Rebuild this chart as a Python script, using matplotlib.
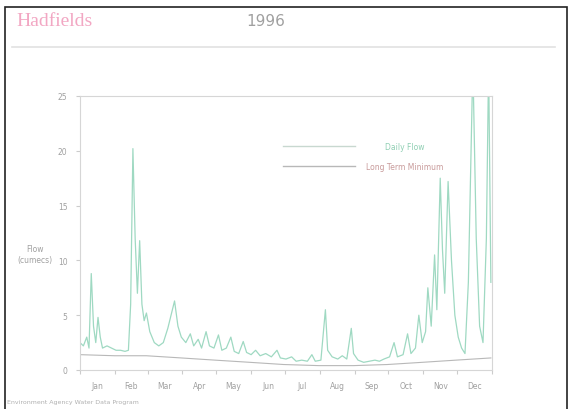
import matplotlib
matplotlib.use("Agg")
import matplotlib.pyplot as plt
from matplotlib.lines import Line2D
from matplotlib.patches import Rectangle

# Daily flow readings (day of year, flow in cumecs)
flow_days = [0, 3, 6, 8, 10, 12, 14, 16, 18, 20, 24, 28, 32, 36, 40, 43, 45, 47, 49, 51,
             53, 55, 57, 59, 62, 66, 70, 74, 78, 84, 87, 90, 94, 98, 101, 105, 108, 112,
             115, 119, 123, 126, 130, 134, 137, 141, 145, 148, 152, 156, 160, 165, 170,
             175, 178, 183, 188, 192, 197, 202, 206, 209, 214, 218, 220, 224, 229, 233,
             237, 241, 243, 247, 252, 257, 262, 266, 270, 275, 279, 282, 287, 291, 294,
             298, 301, 304, 307, 309, 312, 315, 317, 320, 322, 324, 327, 330, 333, 336,
             339, 342, 345, 349, 352, 355, 358, 361, 363, 365]
flow_values = [2.5, 2.2, 3.0, 2.0, 8.8, 4.0, 2.5, 4.8, 3.0, 2.0, 2.2, 2.0, 1.8, 1.8, 1.7,
               1.8, 6.0, 20.2, 12.0, 7.0, 11.8, 6.0, 4.5, 5.2, 3.5, 2.5, 2.2, 2.5, 3.8,
               6.3, 4.0, 3.0, 2.5, 3.3, 2.2, 2.8, 2.0, 3.5, 2.2, 2.0, 3.2, 1.8, 2.0, 3.0,
               1.7, 1.5, 2.6, 1.6, 1.4, 1.8, 1.3, 1.5, 1.2, 1.8, 1.1, 1.0, 1.2, 0.8, 0.9,
               0.8, 1.4, 0.8, 0.9, 5.5, 1.8, 1.2, 1.0, 1.3, 1.0, 3.8, 1.5, 0.9, 0.7, 0.8,
               0.9, 0.8, 1.0, 1.2, 2.5, 1.2, 1.4, 3.3, 1.5, 2.0, 5.0, 2.5, 3.5, 7.5, 4.0,
               10.5, 5.5, 17.5, 11.0, 7.0, 17.2, 10.0, 5.0, 3.0, 2.0, 1.5, 8.0, 28.0,
               12.0, 4.0, 2.5, 12.0, 28.0, 8.0]

# Long term minimum flow (day of year, cumecs)
ltm_days = [0, 31, 59, 90, 120, 151, 181, 212, 243, 273, 304, 334, 365]
ltm_values = [1.4, 1.3, 1.3, 1.1, 0.9, 0.7, 0.5, 0.4, 0.4, 0.5, 0.7, 0.9, 1.1]

months = ["Jan", "Feb", "Mar", "Apr", "May", "Jun", "Jul", "Aug", "Sep", "Oct", "Nov", "Dec"]
month_starts = [0, 31, 60, 91, 121, 152, 182, 213, 244, 274, 305, 335, 366]
y_ticks = [0, 5, 10, 15, 20, 25]
series_names = ["Daily Flow", "Long Term Minimum"]

FLOW_COLOR = "#9fd9c2"
LTM_COLOR = "#b8b8b8"
TEXT_COLOR = "#a0a0a0"

fig = plt.figure(figsize=(5.73, 4.10), dpi=100)
fig.patch.set_facecolor("white")

# Page frame and heading rule
fig.add_artist(Rectangle((5 / 573, -0.05), 562 / 573, 1 - 8 / 410 + 0.05,
                         transform=fig.transFigure, fill=False,
                         edgecolor="#222222", linewidth=1.2))
fig.add_artist(Line2D([12 / 573, 555 / 573], [1 - 48 / 410] * 2,
                      transform=fig.transFigure, color="#e2e2e2", linewidth=1.2))

fig.text(16 / 573, 1 - 22 / 410, "Hadfields", color="#f2a7c3", fontsize=14,
         family="Liberation Serif", va="center", ha="left")
fig.text(266 / 573, 1 - 22 / 410, "1996", color="#a0a0a0", fontsize=11,
         family="DejaVu Sans", va="center", ha="center")
fig.text(7 / 573, 1 - 403 / 410, "Environment Agency Water Data Program",
         color="#b0b0b0", fontsize=4.5, va="center", ha="left")

ax = fig.add_axes([80 / 573, 1 - 371 / 410, 412 / 573, 274 / 410])
ax.plot(flow_days, flow_values, color=FLOW_COLOR, linewidth=0.9)
ax.plot(ltm_days, ltm_values, color=LTM_COLOR, linewidth=0.8)

ax.set_xlim(0, 366)
ax.set_ylim(0, 25)
ax.set_yticks(y_ticks)
ax.set_yticklabels([str(t) for t in y_ticks], fontsize=5.5, color=TEXT_COLOR)
ax.set_xticks(month_starts)
ax.set_xticklabels([])
ax.set_xticks([(a + b) / 2 for a, b in zip(month_starts[:-1], month_starts[1:])], minor=True)
ax.set_xticklabels(months, minor=True, fontsize=5.5, color=TEXT_COLOR)
ax.tick_params(axis="x", which="minor", length=0, pad=8)
ax.tick_params(axis="both", which="major", length=3, color="#cccccc")
ax.tick_params(axis="y", pad=6)

for side in ["left", "bottom", "right", "top"]:
    ax.spines[side].set_color("#d6d6d6")
    ax.spines[side].set_linewidth(0.8)
ax.spines["bottom"].set_linestyle((0, (2, 1)))

fig.text(35 / 573, 1 - 255 / 410, "Flow\n(cumecs)", fontsize=5.5, color=TEXT_COLOR,
         ha="center", va="center")

# Key: sample line on the left, centred label on the right
key_rows = [(1 - 50 / 274, "#c8d8d0", "#8fcfb3"),
            (1 - 70 / 274, LTM_COLOR, "#c89a9a")]
for name, (ky, line_color, label_color) in zip(series_names, key_rows):
    ax.add_line(Line2D([203 / 412, 275 / 412], [ky, ky], transform=ax.transAxes,
                       color=line_color, linewidth=1.0))
    ax.text(325 / 412, ky, name, transform=ax.transAxes, fontsize=5.5,
            color=label_color, ha="center", va="center")

fig.savefig("out.png", dpi=100, facecolor="white")
